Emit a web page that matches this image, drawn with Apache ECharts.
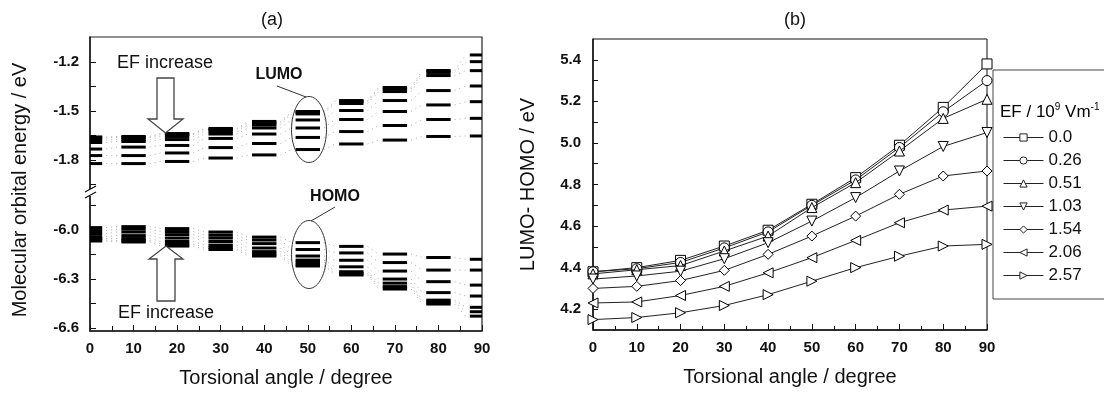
<!DOCTYPE html>
<html>
<head>
<meta charset="utf-8">
<script src="https://cdn.jsdelivr.net/npm/echarts@6/dist/echarts.min.js"></script>
<style>
  html, body { margin: 0; padding: 0; background: #fff; }
  #chart { width: 1104px; height: 394px; }
</style>
</head>
<body>
<div id="chart"></div>
<script>
// torsional angles (degree)
const angles = [0, 10, 20, 30, 40, 50, 60, 70, 80, 90];
// field strengths, EF / 10^9 V/m
const efLabels = ['0.0', '0.26', '0.51', '1.03', '1.54', '2.06', '2.57'];

// (a) LUMO levels, eV
const lumo000 = [-1.659, -1.656, -1.638, -1.607, -1.564, -1.503, -1.436, -1.356, -1.252, -1.157];
const lumo026 = [-1.665, -1.662, -1.644, -1.613, -1.574, -1.509, -1.442, -1.365, -1.264, -1.198];
const lumo051 = [-1.678, -1.675, -1.656, -1.626, -1.586, -1.518, -1.454, -1.381, -1.283, -1.253];
const lumo103 = [-1.693, -1.687, -1.675, -1.641, -1.604, -1.555, -1.497, -1.436, -1.375, -1.347];
const lumo154 = [-1.733, -1.721, -1.711, -1.668, -1.641, -1.604, -1.552, -1.503, -1.463, -1.443];
const lumo206 = [-1.773, -1.773, -1.757, -1.724, -1.699, -1.662, -1.626, -1.589, -1.552, -1.545];
const lumo257 = [-1.822, -1.822, -1.809, -1.788, -1.769, -1.736, -1.702, -1.678, -1.656, -1.653];

// (a) HOMO levels, eV
const homo000 = [-6.067, -6.073, -6.098, -6.119, -6.159, -6.220, -6.275, -6.361, -6.453, -6.527];
const homo026 = [-6.061, -6.064, -6.086, -6.107, -6.147, -6.211, -6.266, -6.346, -6.441, -6.500];
const homo051 = [-6.052, -6.052, -6.070, -6.092, -6.132, -6.196, -6.255, -6.325, -6.429, -6.473];
const homo103 = [-6.040, -6.034, -6.049, -6.070, -6.110, -6.184, -6.225, -6.300, -6.383, -6.404];
const homo154 = [-6.021, -6.012, -6.028, -6.049, -6.083, -6.159, -6.185, -6.251, -6.316, -6.337];
const homo206 = [-6.003, -5.994, -6.009, -6.031, -6.061, -6.119, -6.140, -6.199, -6.245, -6.245];
const homo257 = [-5.985, -5.979, -5.991, -6.012, -6.043, -6.077, -6.100, -6.147, -6.168, -6.179];

// (b) LUMO-HOMO gap, eV
const gap000 = [4.380, 4.400, 4.435, 4.504, 4.580, 4.705, 4.833, 4.989, 5.171, 5.380];
const gap026 = [4.380, 4.395, 4.425, 4.495, 4.572, 4.700, 4.822, 4.978, 5.150, 5.300];
const gap051 = [4.370, 4.390, 4.410, 4.480, 4.552, 4.689, 4.809, 4.961, 5.118, 5.210];
const gap103 = [4.345, 4.360, 4.383, 4.443, 4.520, 4.624, 4.737, 4.865, 4.983, 5.050];
const gap154 = [4.300, 4.310, 4.338, 4.387, 4.464, 4.552, 4.648, 4.753, 4.841, 4.865];
const gap206 = [4.230, 4.235, 4.266, 4.310, 4.375, 4.448, 4.531, 4.616, 4.677, 4.696];
const gap257 = [4.150, 4.160, 4.183, 4.218, 4.270, 4.335, 4.400, 4.455, 4.504, 4.512];

// tick positions / labels
const upperTicks = [-1.95, -1.8, -1.65, -1.5, -1.35, -1.2];
const upperLabels = [-1.8, -1.5, -1.2];
const lowerTicks = [-6.6, -6.45, -6.3, -6.15, -6.0, -5.85];
const lowerLabels = [-6.6, -6.3, -6.0];
const gapTicks = [4.2, 4.3, 4.4, 4.5, 4.6, 4.7, 4.8, 4.9, 5.0, 5.1, 5.2, 5.3, 5.4];
const gapLabels = [4.2, 4.4, 4.6, 4.8, 5.0, 5.2, 5.4];

const lumoSets = [lumo000, lumo026, lumo051, lumo103, lumo154, lumo206, lumo257];
const homoSets = [homo000, homo026, homo051, homo103, homo154, homo206, homo257];
const gapSets = [gap000, gap026, gap051, gap103, gap154, gap206, gap257];
const symbols = [
  'rect', 'circle', 'triangle',
  'path://M0,0L10,0L5,9Z',
  'diamond',
  'path://M9,0L9,10L0,5Z',
  'path://M0,0L9,5L0,10Z'
];

const FONT = 'Liberation Sans, Arial, sans-serif';
const HALF = 2.8; // half length of a level bar, degrees

// one item per level: own angle/energy plus the next one for the dotted link
function levelItems(sets) {
  const items = [];
  sets.forEach(set => {
    set.forEach((e, i) => {
      const last = i === angles.length - 1;
      items.push([angles[i], e, last ? null : angles[i + 1], last ? null : set[i + 1]]);
    });
  });
  return items;
}

function renderLevel(params, api) {
  const a = api.value(0), e = api.value(1);
  const l = api.coord([a - HALF, e]);
  const r = api.coord([a + HALF, e]);
  const kids = [{
    type: 'line',
    shape: { x1: l[0], y1: l[1], x2: r[0], y2: r[1] },
    style: { stroke: '#000', lineWidth: 3 }
  }];
  const na = api.value(2), ne = api.value(3);
  if (!isNaN(na) && !isNaN(ne)) {
    const n = api.coord([na - HALF, ne]);
    kids.push({
      type: 'line',
      shape: { x1: r[0] + 4, y1: r[1], x2: n[0] - 4, y2: n[1] },
      style: { stroke: '#aaa', lineWidth: 1, lineDash: [1, 4] }
    });
  }
  return { type: 'group', children: kids };
}

const tickLabel = { fontFamily: FONT, fontSize: 15, fontWeight: 'bold', color: '#111' };
const nameStyle = { fontFamily: FONT, fontSize: 20, color: '#111' };

const chart = echarts.init(document.getElementById('chart'), null, { renderer: 'canvas' });

chart.setOption({
  animation: false,
  backgroundColor: '#fff',
  grid: [
    { left: 90, top: 37, width: 392, height: 155 },
    { left: 90, top: 192, width: 392, height: 139 },
    { left: 593, top: 39, width: 394, height: 291, show: true, borderColor: '#111', borderWidth: 1 }
  ],
  xAxis: [
    { gridIndex: 0, type: 'value', min: 0, max: 90, show: false },
    {
      gridIndex: 1, type: 'value', min: 0, max: 90, interval: 10,
      name: 'Torsional angle / degree', nameLocation: 'middle', nameGap: 37, nameTextStyle: nameStyle,
      axisLine: { lineStyle: { color: '#111', width: 1.5 } },
      axisTick: { inside: true, length: 6, lineStyle: { color: '#111' } },
      minorTick: { show: true, splitNumber: 2, length: 5, lineStyle: { color: '#111' } },
      axisLabel: Object.assign({ margin: 10 }, tickLabel),
      splitLine: { show: false }
    },
    {
      gridIndex: 2, type: 'value', min: 0, max: 90, interval: 10,
      name: 'Torsional angle / degree', nameLocation: 'middle', nameGap: 37, nameTextStyle: nameStyle,
      axisLine: { lineStyle: { color: '#111', width: 1.5 } },
      axisTick: { inside: true, length: 6, lineStyle: { color: '#111' } },
      minorTick: { show: true, splitNumber: 2, length: 4, lineStyle: { color: '#111' } },
      axisLabel: Object.assign({ margin: 10 }, tickLabel),
      splitLine: { show: false }
    }
  ],
  yAxis: [
    {
      gridIndex: 0, type: 'value', min: -1.996, max: -1.047,
      axisLine: { show: true, lineStyle: { color: '#111', width: 1.5 } },
      axisTick: { show: true, inside: true, length: 6, customValues: upperTicks, lineStyle: { color: '#111' } },
      axisLabel: Object.assign({ margin: 11, customValues: upperLabels, formatter: v => v.toFixed(1) }, tickLabel),
      splitLine: { show: false }
    },
    {
      gridIndex: 1, type: 'value', min: -6.618, max: -5.767,
      axisLine: { show: true, lineStyle: { color: '#111', width: 1.5 } },
      axisTick: { show: true, inside: true, length: 6, customValues: lowerTicks, lineStyle: { color: '#111' } },
      axisLabel: Object.assign({ margin: 11, customValues: lowerLabels, formatter: v => v.toFixed(1) }, tickLabel),
      splitLine: { show: false }
    },
    {
      gridIndex: 2, type: 'value', min: 4.1, max: 5.5,
      name: 'LUMO- HOMO / eV', nameLocation: 'middle', nameGap: 55, nameTextStyle: nameStyle,
      axisLine: { show: true, lineStyle: { color: '#111', width: 1.5 } },
      axisTick: { show: true, inside: true, length: 5, customValues: gapTicks, lineStyle: { color: '#111' } },
      axisLabel: Object.assign({ margin: 12, customValues: gapLabels, formatter: v => v.toFixed(1) }, tickLabel),
      splitLine: { show: false }
    }
  ],
  legend: {
    data: efLabels,
    orient: 'vertical',
    left: 998,
    top: 124,
    itemWidth: 40,
    itemHeight: 9,
    itemGap: 6,
    itemStyle: { color: '#fff', borderColor: '#222', borderWidth: 1 },
    lineStyle: { color: '#222', width: 1 },
    textStyle: { fontFamily: FONT, fontSize: 17, color: '#111' }
  },
  series: [
    {
      type: 'custom', name: 'LUMO', xAxisIndex: 0, yAxisIndex: 0, clip: true,
      dimensions: ['angle', 'energy', 'nextAngle', 'nextEnergy'],
      encode: { x: 0, y: 1 },
      renderItem: renderLevel,
      data: levelItems(lumoSets)
    },
    {
      type: 'custom', name: 'HOMO', xAxisIndex: 1, yAxisIndex: 1, clip: true,
      dimensions: ['angle', 'energy', 'nextAngle', 'nextEnergy'],
      encode: { x: 0, y: 1 },
      renderItem: renderLevel,
      data: levelItems(homoSets)
    }
  ].concat(gapSets.map((set, i) => ({
    type: 'line',
    name: efLabels[i],
    xAxisIndex: 2, yAxisIndex: 2,
    data: set.map((v, j) => [angles[j], v]),
    symbol: symbols[i],
    symbolSize: 10,
    lineStyle: { color: '#222', width: 1 },
    itemStyle: { color: '#fff', borderColor: '#000', borderWidth: 1 },
    z: 3 + i
  }))),
  graphic: [
    // panel (a) frame
    { type: 'rect', shape: { x: 90, y: 37, width: 392, height: 294 }, style: { fill: 'none', stroke: '#222', lineWidth: 1.2 }, z: 1 },
    // axis break mark
    { type: 'rect', shape: { x: 85, y: 189, width: 11, height: 7 }, style: { fill: '#fff' }, z: 50 },
    { type: 'line', shape: { x1: 85, y1: 192, x2: 96, y2: 186 }, style: { stroke: '#111', lineWidth: 1.3 }, z: 51 },
    { type: 'line', shape: { x1: 85, y1: 198, x2: 96, y2: 192 }, style: { stroke: '#111', lineWidth: 1.3 }, z: 51 },
    // titles
    { type: 'text', x: 272, y: 20, style: { text: '(a)', font: '18px ' + FONT, fill: '#111', align: 'center', verticalAlign: 'middle' } },
    { type: 'text', x: 795, y: 20, style: { text: '(b)', font: '18px ' + FONT, fill: '#111', align: 'center', verticalAlign: 'middle' } },
    // y name of panel (a)
    { type: 'text', x: 20, y: 190, rotation: Math.PI / 2, style: { text: 'Molecular orbital energy / eV', font: '20px ' + FONT, fill: '#111', align: 'center', verticalAlign: 'middle' } },
    // EF increase arrows
    { type: 'text', x: 165, y: 63, style: { text: 'EF increase', font: '18px ' + FONT, fill: '#111', align: 'center', verticalAlign: 'middle' }, z: 20 },
    { type: 'polygon', shape: { points: [[157, 78], [174, 78], [174, 119], [183, 119], [165.5, 133], [148, 119], [157, 119]] }, style: { fill: '#fff', stroke: '#444', lineWidth: 1.3 }, z: 20 },
    { type: 'text', x: 166, y: 313, style: { text: 'EF increase', font: '18px ' + FONT, fill: '#111', align: 'center', verticalAlign: 'middle' }, z: 20 },
    { type: 'polygon', shape: { points: [[157, 301], [175, 301], [175, 259], [183, 259], [166, 246], [149, 259], [157, 259]] }, style: { fill: '#fff', stroke: '#444', lineWidth: 1.3 }, z: 20 },
    // LUMO / HOMO callouts
    { type: 'text', x: 279, y: 75, style: { text: 'LUMO', font: 'bold 16px ' + FONT, fill: '#111', align: 'center', verticalAlign: 'middle' }, z: 20 },
    { type: 'line', shape: { x1: 277, y1: 86, x2: 306, y2: 97 }, style: { stroke: '#333', lineWidth: 1 }, z: 20 },
    { type: 'ellipse', shape: { cx: 309, cy: 129.5, rx: 17.5, ry: 33 }, style: { fill: 'none', stroke: '#333', lineWidth: 1 }, z: 20 },
    { type: 'text', x: 335, y: 197, style: { text: 'HOMO', font: 'bold 16px ' + FONT, fill: '#111', align: 'center', verticalAlign: 'middle' }, z: 20 },
    { type: 'line', shape: { x1: 335, y1: 207, x2: 311, y2: 221 }, style: { stroke: '#333', lineWidth: 1 }, z: 20 },
    { type: 'ellipse', shape: { cx: 309, cy: 254.5, rx: 17.5, ry: 34 }, style: { fill: 'none', stroke: '#333', lineWidth: 1 }, z: 20 },
    // legend box and title
    { type: 'rect', shape: { x: 993, y: 70, width: 140, height: 229 }, style: { fill: 'none', stroke: '#444', lineWidth: 1 }, z: 1 },
    {
      type: 'text', x: 1000, y: 112,
      style: {
        text: '{n|EF / 10}{s|9}{n| Vm}{s|-1}',
        verticalAlign: 'middle',
        rich: {
          n: { fontFamily: FONT, fontSize: 17, color: '#111', lineHeight: 20 },
          s: { fontFamily: FONT, fontSize: 10, color: '#111', lineHeight: 20, verticalAlign: 'top' }
        }
      }
    }
  ]
});
</script>
</body>
</html>
